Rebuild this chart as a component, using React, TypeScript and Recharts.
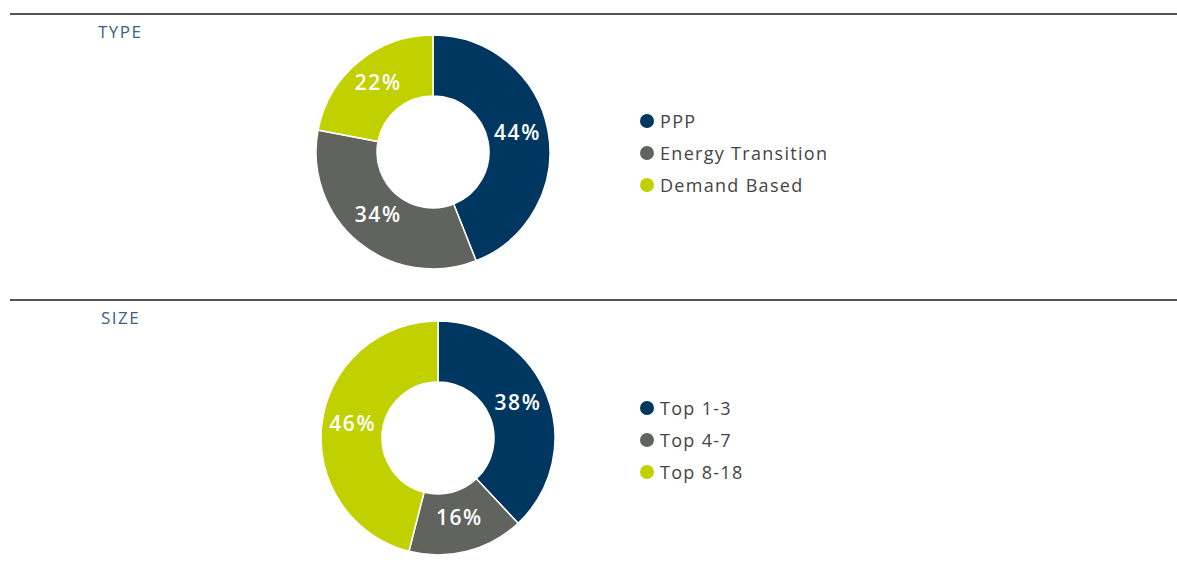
import React from 'react';
import { PieChart, Pie, Cell, Legend } from 'recharts';

const typeNames = ['PPP', 'Energy Transition', 'Demand Based'];
const typeValues = [44, 34, 22];
const sizeNames = ['Top 1-3', 'Top 4-7', 'Top 8-18'];
const sizeValues = [38, 16, 46];
const colors = ['#003761', '#60635e', '#c1d100'];

const RAD = Math.PI / 180;
const FONT = '"Open Sans", sans-serif';

const renderLabel = (props: any) => {
  const { cx, cy, midAngle, value } = props;
  const r = 86;
  const x = cx + r * Math.cos(-midAngle * RAD);
  const y = cy + r * Math.sin(-midAngle * RAD) - 4;
  return (
    <text
      x={x}
      y={y}
      fill="#fff"
      textAnchor="middle"
      dominantBaseline="central"
      fontFamily={FONT}
      fontSize={21}
      fontWeight={600}
      letterSpacing={1.6}
    >
      {`${value}%`}
    </text>
  );
};

const LegendList = ({ names }: { names: string[] }) => (
  <div style={{ fontFamily: FONT }}>
    {names.map((n, i) => (
      <div key={n} style={{ display: 'flex', alignItems: 'center', height: 32 }}>
        <span
          style={{
            width: 14,
            height: 14,
            borderRadius: 7,
            background: colors[i],
            display: 'inline-block',
            marginRight: 6,
          }}
        />
        <span style={{ fontSize: 18, color: '#444', letterSpacing: 1.3 }}>{n}</span>
      </div>
    ))}
  </div>
);

interface SectionProps {
  title: string;
  names: string[];
  values: number[];
  top: number;
  cx: number;
  cy: number;
  titleLeft: number;
  legendTop: number;
}

const Section: React.FC<SectionProps> = ({ title, names, values, top, cx, cy, titleLeft, legendTop }) => {
  const data = names.map((name, i) => ({ name, value: values[i] }));
  return (
    <div style={{ position: 'absolute', left: 0, top, width: 1177, height: 286 }}>
      <div style={{ position: 'absolute', left: 10, top: 0, width: 1167, height: 1.5, background: '#555' }} />
      <div
        style={{
          position: 'absolute',
          left: titleLeft,
          top: 7,
          fontFamily: FONT,
          fontSize: 17,
          fontWeight: 400,
          color: '#3d6186',
          letterSpacing: 1.5,
        }}
      >
        {title}
      </div>
      <PieChart width={1177} height={286}>
        <Pie
          data={data}
          dataKey="value"
          nameKey="name"
          cx={cx}
          cy={cy}
          innerRadius={56}
          outerRadius={117}
          startAngle={90}
          endAngle={-270}
          stroke="#fff"
          strokeWidth={1.5}
          label={renderLabel}
          labelLine={false}
          isAnimationActive={false}
        >
          {data.map((d, i) => (
            <Cell key={d.name} fill={colors[i]} />
          ))}
        </Pie>
        <Legend
          content={() => <LegendList names={names} />}
          wrapperStyle={{ position: 'absolute', left: 640, top: legendTop, width: 300 }}
        />
      </PieChart>
    </div>
  );
};

export default function App() {
  return (
    <div style={{ position: 'absolute', left: 0, top: 0, width: 1177, height: 577, background: '#fff' }}>
      <Section title="TYPE" names={typeNames} values={typeValues} top={13} cx={428} cy={134} titleLeft={98} legendTop={92} />
      <Section title="SIZE" names={sizeNames} values={sizeValues} top={299} cx={433} cy={134} titleLeft={101} legendTop={93} />
    </div>
  );
}
